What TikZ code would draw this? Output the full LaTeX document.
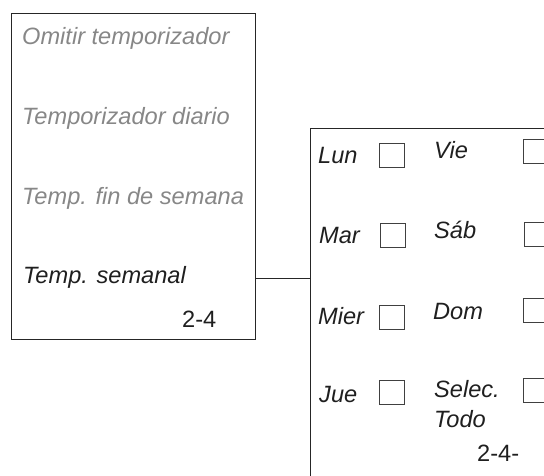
\documentclass[tikz,border=0pt]{standalone}
\usepackage{fontspec}
\setmainfont{Liberation Sans}
\begin{document}
\begin{tikzpicture}[x=1pt,y=1pt,
  frame/.style={draw=black!85, line width=1.2pt, inner sep=0pt, anchor=north west},
  lbl/.style={anchor=base west, inner sep=0pt, font=\fontsize{23.6}{27}\selectfont\itshape, text=black!88},
  dim/.style={lbl, text=black!47},
  num/.style={anchor=base west, inner sep=0pt, font=\fontsize{23.6}{27}\selectfont, text=black!88},
  cbox/.style={draw=black!75, line width=0.9pt, minimum width=25pt, minimum height=24pt, inner sep=0pt, anchor=north west}]
\useasboundingbox (0,0) rectangle (544,-475);
\clip (0,0) rectangle (544,-475);
% left menu
\node[frame, minimum width=244pt, minimum height=326pt] (lbox) at (11,-13) {};
\node[dim] (t1) at (22,-44) {Omitir temporizador};
\node[dim] (t2) at (22,-124) {Temporizador diario};
\node[dim] (t3) at (22,-204) {Temp. fin de semana};
\node[lbl] (t4) at (23,-283) {Temp. semanal};
\node[num] (n1) at (182,-327) {2-4};
% right panel
\node[frame, minimum width=260pt, minimum height=370pt] (rbox) at (310,-128) {};
\draw[draw=black!85, line width=1pt] (lbox.east |- 0,-278) -- (rbox.west |- 0,-278);
% left column
\node[lbl] (lun) at (318,-163) {Lun};
\node[cbox] (clun) at (379,-143) {};
\node[lbl] (mar) at (319,-243) {Mar};
\node[cbox] (cmar) at (380,-223) {};
\node[lbl] (mie) at (318,-324) {Mier};
\node[cbox] (cmie) at (379,-305) {};
\node[lbl] (jue) at (319,-402) {Jue};
\node[cbox] (cjue) at (379,-380) {};
% right column
\node[lbl] (vie) at (434,-158) {Vie};
\node[cbox] (cvie) at (523,-139) {};
\node[lbl] (sab) at (434,-238) {Sáb};
\node[cbox] (csab) at (524,-222) {};
\node[lbl] (dom) at (433,-319) {Dom};
\node[cbox] (cdom) at (523,-298) {};
\node[lbl] (sel) at (434,-397) {Selec.};
\node[lbl] (tod) at (434,-427) {Todo};
\node[cbox] (csel) at (523,-378) {};
\node[num] (n2) at (477,-461) {2-4-};
\end{tikzpicture}
\end{document}
